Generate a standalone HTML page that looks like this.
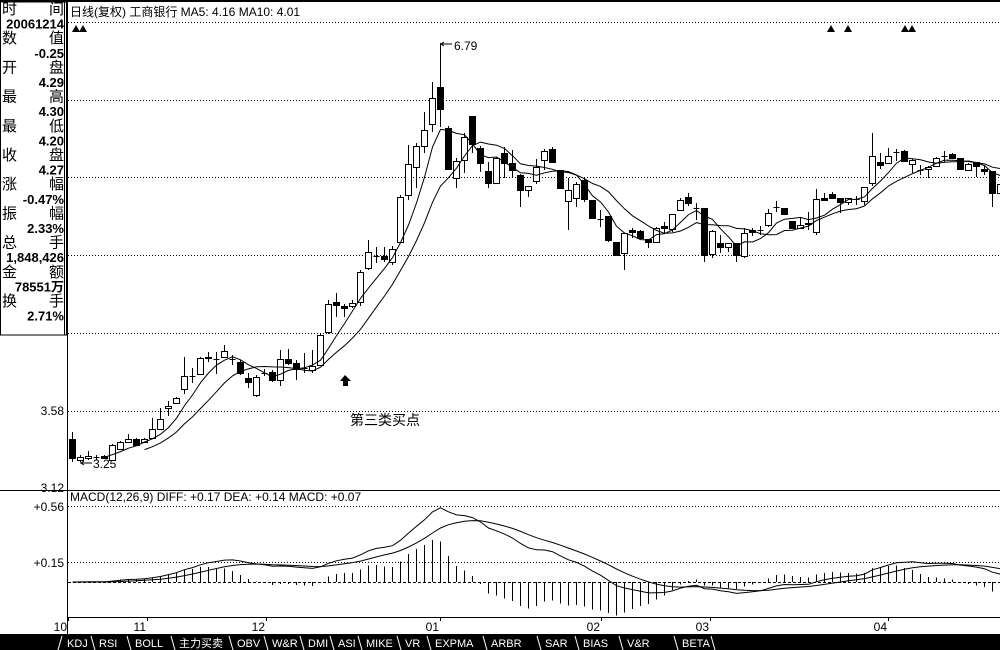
<!DOCTYPE html>
<html><head><meta charset="utf-8">
<style>
html,body{margin:0;padding:0;background:#fff;}
svg{display:block;font-family:"Liberation Sans","Noto Sans CJK SC",sans-serif;}
</style></head>
<body>
<svg id="s" width="1000" height="650" xmlns="http://www.w3.org/2000/svg">
<rect x="0" y="0" width="1000" height="650" fill="#fff"/>
<rect x="0" y="0" width="1000" height="2" fill="#000"/>
<g id="grid" stroke="#000" stroke-width="1" stroke-dasharray="1,2" shape-rendering="crispEdges">
<line x1="68" y1="22.5" x2="1000" y2="22.5"/>
<line x1="68" y1="100.5" x2="1000" y2="100.5"/>
<line x1="68" y1="177.5" x2="1000" y2="177.5"/>
<line x1="68" y1="255.5" x2="1000" y2="255.5"/>
<line x1="68" y1="333.5" x2="1000" y2="333.5"/>
<line x1="68" y1="411.5" x2="1000" y2="411.5"/>
<line x1="68" y1="506.5" x2="1000" y2="506.5"/>
<line x1="68" y1="562.5" x2="1000" y2="562.5"/>
</g>
<line x1="68" y1="582.5" x2="1000" y2="582.5" stroke="#000" stroke-dasharray="3,2" shape-rendering="crispEdges"/>
<g stroke="#000" shape-rendering="crispEdges">
<line x1="67.5" y1="0" x2="67.5" y2="634"/>
<line x1="0" y1="490.5" x2="1000" y2="490.5"/>
<line x1="67" y1="617.5" x2="1000" y2="617.5"/>
<line x1="68.5" y1="617" x2="68.5" y2="621"/>
<line x1="147.5" y1="617" x2="147.5" y2="621"/>
<line x1="266.5" y1="617" x2="266.5" y2="621"/>
<line x1="440.5" y1="617" x2="440.5" y2="621"/>
<line x1="601.5" y1="617" x2="601.5" y2="621"/>
<line x1="710.5" y1="617" x2="710.5" y2="621"/>
<line x1="888.5" y1="617" x2="888.5" y2="621"/>
</g>
<g font-size="12" fill="#000">
<text x="70" y="16">日线(复权)  工商银行  MA5: 4.16  MA10: 4.01</text>
<text x="70" y="501">MACD(12,26,9) DIFF: +0.17 DEA: +0.14 MACD: +0.07</text>
<text x="64" y="415" text-anchor="end">3.58</text>
<text x="64" y="492" text-anchor="end">3.12</text>
<text x="64" y="511" text-anchor="end">+0.56</text>
<text x="64" y="567" text-anchor="end">+0.15</text>
<text x="67" y="631" text-anchor="end">10</text>
<text x="146" y="631" text-anchor="end">11</text>
<text x="265" y="631" text-anchor="end">12</text>
<text x="439" y="631" text-anchor="end">01</text>
<text x="600" y="631" text-anchor="end">02</text>
<text x="709" y="631" text-anchor="end">03</text>
<text x="887" y="631" text-anchor="end">04</text>
<text x="454" y="50">6.79</text>
<text x="93" y="468">3.25</text>
<text x="350" y="425" font-size="14">第三类买点</text>
</g>
<g stroke="#000">
<line x1="440" y1="44" x2="452" y2="44"/><polyline points="444,42 441,44 444,46" fill="none"/>
<line x1="80" y1="463" x2="92" y2="463"/><polyline points="84,461 81,463 84,465" fill="none"/>
</g>
<polygon points="345,375 351,381 348,381 348,386 343,386 343,381 340,381" fill="#000"/>
<g fill="#000">
<polygon points="72,32 76,25 80,32"/><polygon points="79,32 83,25 87,32"/>
<polygon points="827,32 831,25 835,32"/><polygon points="844,32 848,25 852,32"/>
<polygon points="901,32 905,25 909,32"/><polygon points="908,32 912,25 916,32"/>
</g>
<g id="chart"></g>
<rect x="0.5" y="2" width="66" height="333" fill="#fff" stroke="#000"/>
<line x1="64.5" y1="2" x2="64.5" y2="335" stroke="#000"/>
<g font-size="13" font-weight="bold" fill="#000" id="info"></g>
<rect x="0" y="634" width="1000" height="16" fill="#000"/>
<g id="tabs" font-size="11" fill="#fff"></g>
</svg>
<script>
var C=[
[439,458,432,462,0],[460,457,455,462,1],[458,456,451,460,1],[457,457,455,460,1],[456,458,455,459,0],
[460,445,444,461,1],[449,442,441,450,1],[442,439,434,443,1],[439,445,438,446,0],[442,439,438,442,1],
[438,429,418,439,1],[429,419,408,430,1],[408,406,401,416,1],[403,398,397,404,1],[389,376,357,394,1],
[376,376,368,383,1],[374,358,357,375,1],[358,357,352,362,1],[359,359,352,374,1],[357,351,345,358,1],
[359,359,355,365,1],[362,373,360,375,0],[378,382,373,388,0],[395,377,375,397,1],[373,373,369,376,1],
[372,380,370,382,0],[380,359,350,386,1],[359,363,349,365,0],[363,369,360,380,0],[368,368,353,373,1],
[370,366,350,373,1],[365,335,333,366,1],[332,304,300,334,1],[302,305,293,317,0],[306,308,304,317,0],
[306,303,300,308,1],[302,272,270,306,1],[268,252,240,270,1],[256,256,247,263,1],[256,259,247,262,0],
[262,249,246,265,1],[242,197,195,243,1],[195,164,145,200,1],[167,146,143,188,1],[146,130,112,153,1],
[124,98,82,132,1],[87,109,43,127,0],
[128,169,126,170,0],[178,161,158,188,1],[160,137,133,173,1],[116,144,116,153,0],[148,163,146,172,0],
[171,183,162,188,0],[183,158,157,184,1],[153,163,147,178,0],[163,170,150,178,0],[175,190,174,207,0],
[190,186,186,197,1],[181,167,159,184,1],[160,151,149,170,1],[149,162,147,163,0],[170,188,170,188,0],
[201,190,178,230,1],[198,184,182,207,1],[180,199,177,202,0],[200,218,200,218,0],[219,219,210,227,1],
[216,240,216,242,0],[242,255,242,255,0],[253,233,233,270,1],[230,232,228,238,0],[231,238,230,238,0],
[239,242,239,248,0],[242,228,227,243,1],[226,228,222,233,0],[229,214,214,232,1],[210,200,198,211,1],
[197,203,193,206,0],[208,208,203,220,1],[208,255,208,262,0],[254,231,230,258,1],[243,247,235,253,0],
[247,243,243,252,1],[243,255,243,262,0],[256,233,228,258,1],[230,232,228,236,0],[230,230,226,235,1],
[225,213,209,227,1],[207,207,201,212,1],[208,214,208,214,0],[221,228,221,228,0],[228,225,217,228,1],
[223,224,212,230,0],[232,199,189,235,1],[198,200,193,200,0],[194,198,192,198,0],[198,202,198,213,0],
[202,198,198,205,1],[199,199,196,205,1],[201,187,187,205,1],[183,156,133,186,1],[162,165,153,169,0],
[163,156,148,163,1],[152,152,149,161,1],[151,161,150,161,0],[164,160,159,173,1],[170,170,165,175,1],
[169,167,166,178,1],[166,158,157,166,1],[156,156,151,162,1],[154,158,153,158,0],[158,169,158,169,0],
[170,164,163,171,1],[162,166,162,177,0],[169,171,166,175,0],[171,193,171,207,0],[193,184,182,193,1]
];
var NS="http://www.w3.org/2000/svg",g=document.getElementById("chart");
function el(t,a,p){var e=document.createElementNS(NS,t);for(var k in a)e.setAttribute(k,a[k]);(p||g).appendChild(e);return e;}
var n=C.length,xs=[],cl=[];
for(var i=0;i<n;i++){var c=C[i],x=72+8*i+0.5;xs.push(x);cl.push(c[1]);
 el("line",{x1:x,y1:c[2],x2:x,y2:c[3],stroke:"#000","shape-rendering":"crispEdges"});
 var t=Math.min(c[0],c[1]),b=Math.max(c[0],c[1]);
 if(b-t<1){el("line",{x1:x-3,y1:t+.5,x2:x+3,y2:t+.5,stroke:"#000","shape-rendering":"crispEdges"});}
 else el("rect",{x:x-3,y:t+.5,width:6,height:b-t,fill:c[4]?"#fff":"#000",stroke:"#000","shape-rendering":"crispEdges"});
}
function ma(k){var p=[];for(var i=k-1;i<n;i++){var s=0;for(var j=0;j<k;j++)s+=cl[i-j];p.push(xs[i]+","+(s/k).toFixed(1));}
 el("polyline",{points:p.join(" "),fill:"none",stroke:"#000","stroke-width":1});}
ma(5);ma(10);
var pr=cl.map(function(y){return Math.exp(Math.log(3.12)+(490-y)/574);});
var e12=pr[0],e26=pr[0],dea=0,dp=[],ep=[];
for(var i=0;i<n;i++){e12=e12*11/13+pr[i]*2/13;e26=e26*25/27+pr[i]*2/27;var d=e12-e26;dea=dea*0.8+d*0.2;
 var yd=582-d*133,ye=582-dea*133,h=(d-dea)*2*133;
 dp.push(xs[i]+","+yd.toFixed(1));ep.push(xs[i]+","+ye.toFixed(1));
 el("line",{x1:xs[i],y1:582,x2:xs[i],y2:(582-h).toFixed(1),stroke:"#000","shape-rendering":"crispEdges"});}
el("polyline",{points:dp.join(" "),fill:"none",stroke:"#000"});
el("polyline",{points:ep.join(" "),fill:"none",stroke:"#000"});
var info=[["时","间"],["20061214"],["数","值"],["-0.25"],["开","盘"],["4.29"],["最","高"],["4.30"],["最","低"],["4.20"],["收","盘"],["4.27"],["涨","幅"],["-0.47%"],["振","幅"],["2.33%"],["总","手"],["1,848,426"],["金","额"],["78551万"],["换","手"],["2.71%"]];
var ig=document.getElementById("info");
info.forEach(function(r,i){var y=14+i*14.6;
 if(r.length==2){el("text",{x:2,y:y,"font-weight":"normal","font-size":"15"},ig).textContent=r[0];el("text",{x:64,y:y,"text-anchor":"end","font-weight":"normal","font-size":"15"},ig).textContent=r[1];}
 else el("text",{x:64,y:y,"text-anchor":"end"},ig).textContent=r[0];});
var tabs=["KDJ","RSI","BOLL","主力买卖","OBV","W&R","DMI","ASI","MIKE","VR","EXPMA","ARBR","SAR","BIAS","V&R","BETA"];
var tpos=[64,96,132,176,234,269,305,335,363,402,432,488,542,580,624,679,716];
var tg=document.getElementById("tabs");
el("line",{x1:58,y1:650,x2:62,y2:636,stroke:"#fff"},tg);
tabs.forEach(function(t,i){
 el("text",{x:tpos[i]+3,y:647},tg).textContent=t;
 el("line",{x1:tpos[i+1]-5,y1:636,x2:tpos[i+1]-1,y2:650,stroke:"#fff"},tg);});
</script>
</body></html>
